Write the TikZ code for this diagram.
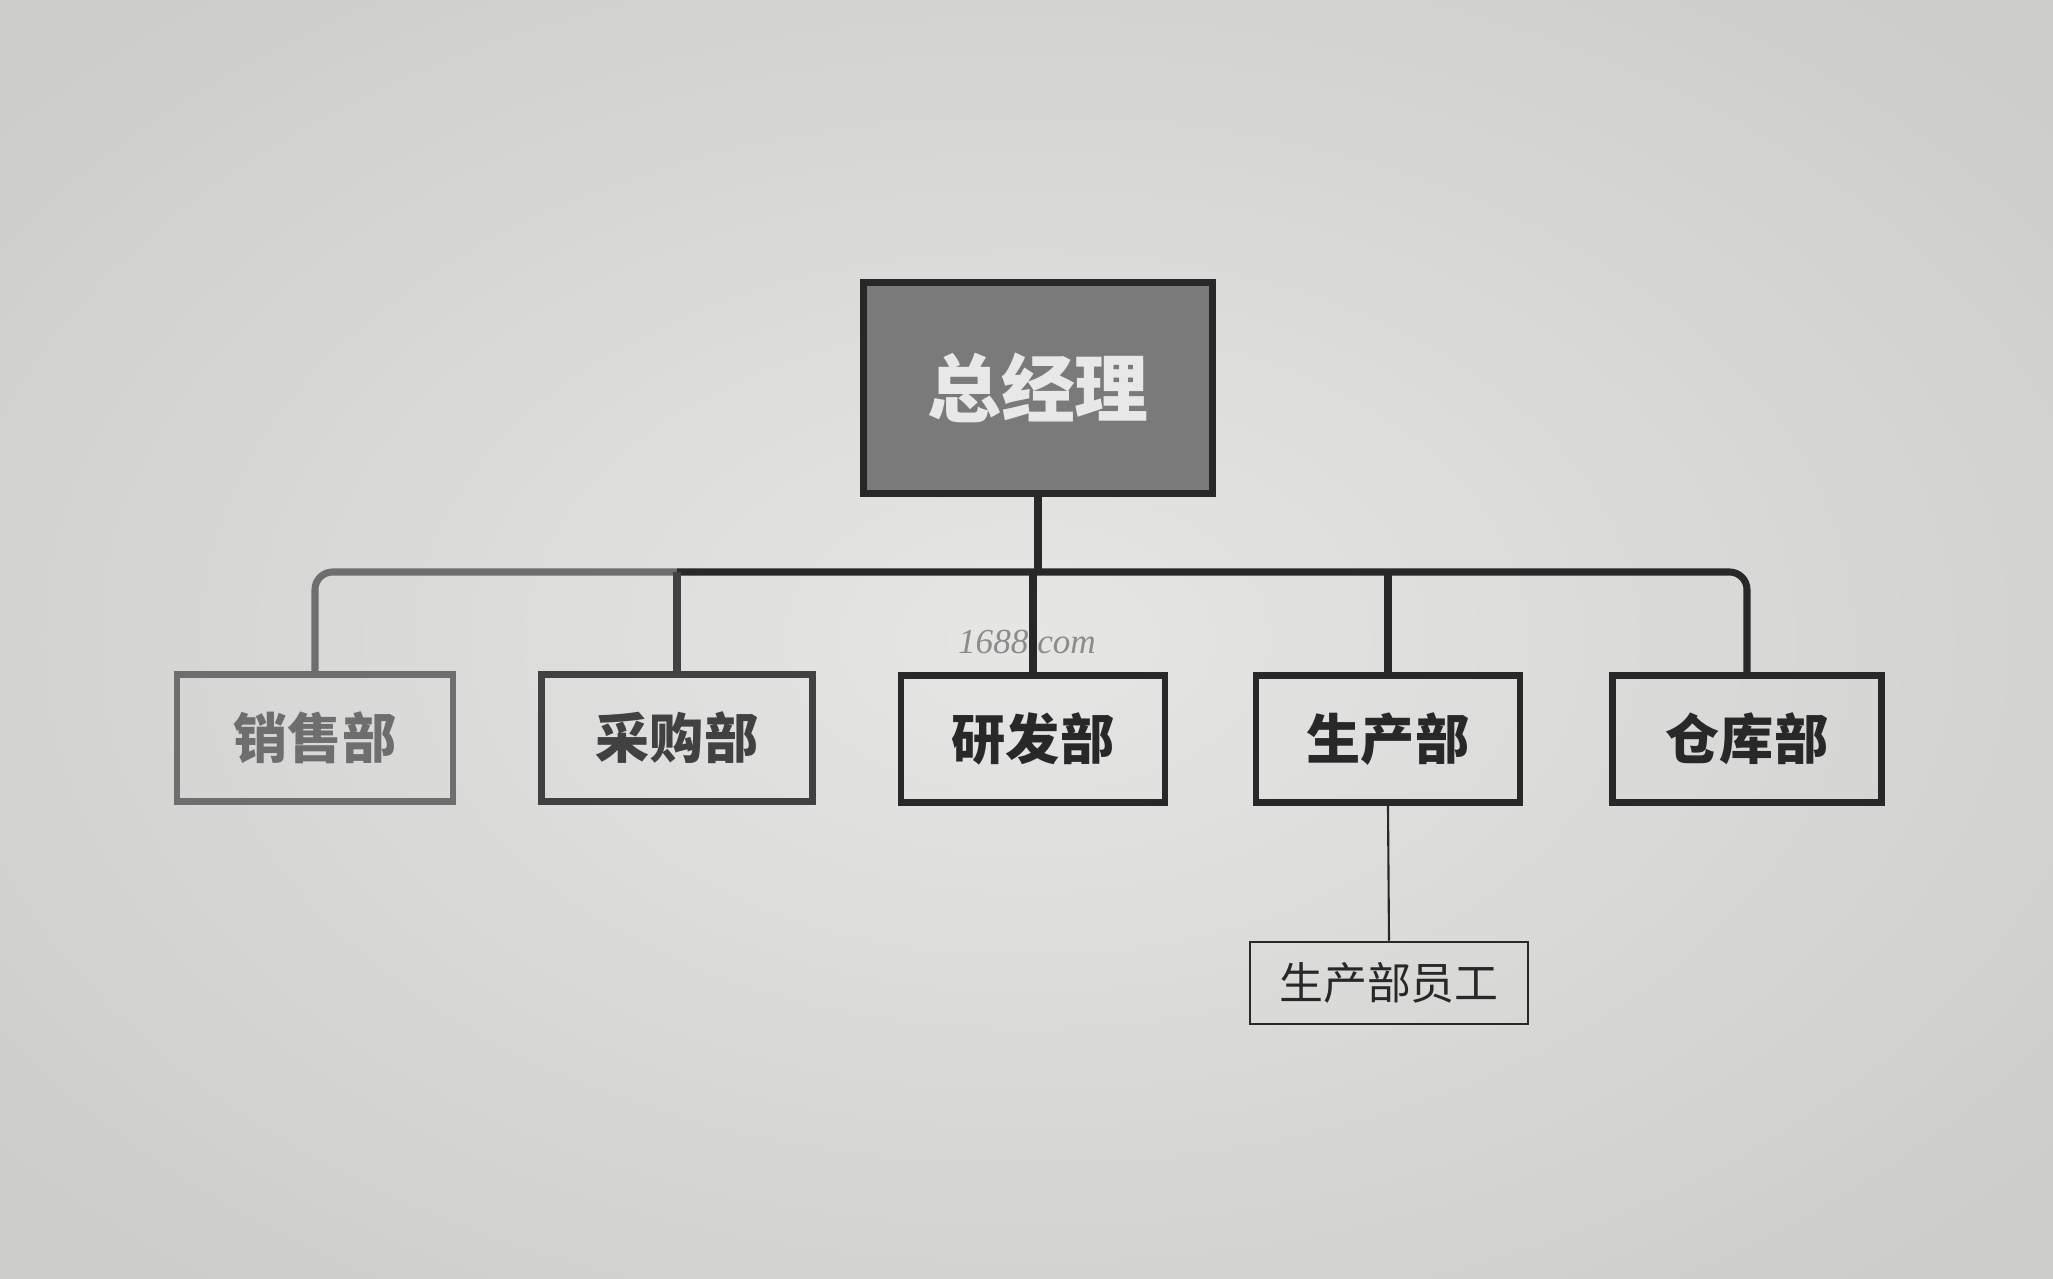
\documentclass[tikz,border=0pt]{standalone}
\usepackage{fontspec}
\newfontfamily\cjk{Noto Sans CJK SC}
\newfontfamily\wmfont{Liberation Serif}
\definecolor{paperin}{RGB}{230,230,228}
\definecolor{paperout}{RGB}{205,205,203}
\definecolor{ink}{RGB}{40,40,40}
\definecolor{fadedink}{RGB}{110,110,110}
\definecolor{midink}{RGB}{65,65,65}
\definecolor{topfill}{RGB}{122,122,122}
\definecolor{toptext}{RGB}{232,232,232}
\definecolor{wm}{RGB}{140,140,140}
\tikzset{
  topbox/.style={draw=ink, line width=2pt, fill=topfill, minimum width=3.48cm, minimum height=2.10cm, inner sep=0pt,
    font=\cjk\bfseries\fontsize{21pt}{21pt}\selectfont, text=toptext},
  deptbox/.style={draw=ink, line width=1.9pt, minimum height=1.27cm, inner sep=0pt,
    font=\cjk\bfseries\fontsize{15.4pt}{15.4pt}\selectfont, text=ink},
  subbox/.style={draw=ink, line width=0.7pt, minimum width=2.78cm, minimum height=0.82cm, inner sep=0pt,
    font=\cjk\fontsize{12.5pt}{12.5pt}\selectfont, text=ink},
  bar/.style={draw=ink, line width=2pt},
  thinline/.style={draw=ink, line width=0.6pt},
}
\begin{document}
\begin{tikzpicture}[x=0.01cm, y=-0.01cm]
\useasboundingbox (0,0) rectangle (2053,1279);
\shade[inner color=paperin, outer color=paperout] (-300,-200) rectangle (2353,1479);
% watermark
\node[font=\wmfont\itshape\fontsize{10pt}{10pt}\selectfont, text=wm] (wmk) at (1027,642) {1688.com};
% nodes
\node[topbox] (top) at (1038,388) {总经理};
\node[deptbox, minimum width=2.76cm, draw=fadedink, text=fadedink] (xs) at (315,738) {销售部};
\node[deptbox, minimum width=2.71cm, draw=midink, text=midink] (cg) at (677,738) {采购部};
\node[deptbox, minimum width=2.64cm] (yf) at (1033,739) {研发部};
\node[deptbox, minimum width=2.64cm] (sc) at (1388,739) {生产部};
\node[deptbox, minimum width=2.69cm] (ck) at (1747,739) {仓库部};
\node[subbox] (sub) at (1389,983) {生产部员工};
\coordinate (j) at (1038,572);
% connectors
\draw[bar] (top.south) -- (j);
\draw[bar, draw=fadedink, rounded corners=5pt] (xs.north) |- (cg.north |- j);
\draw[bar, rounded corners=5pt] (cg.north |- j) -| (ck.north);
\draw[bar, draw=midink] (cg.north) -- (cg.north |- j);
\draw[bar] (yf.north) -- (yf.north |- j);
\draw[bar] (sc.north) -- (sc.north |- j);
\draw[thinline] (sc.south) -- (sub.north);
\end{tikzpicture}
\end{document}
